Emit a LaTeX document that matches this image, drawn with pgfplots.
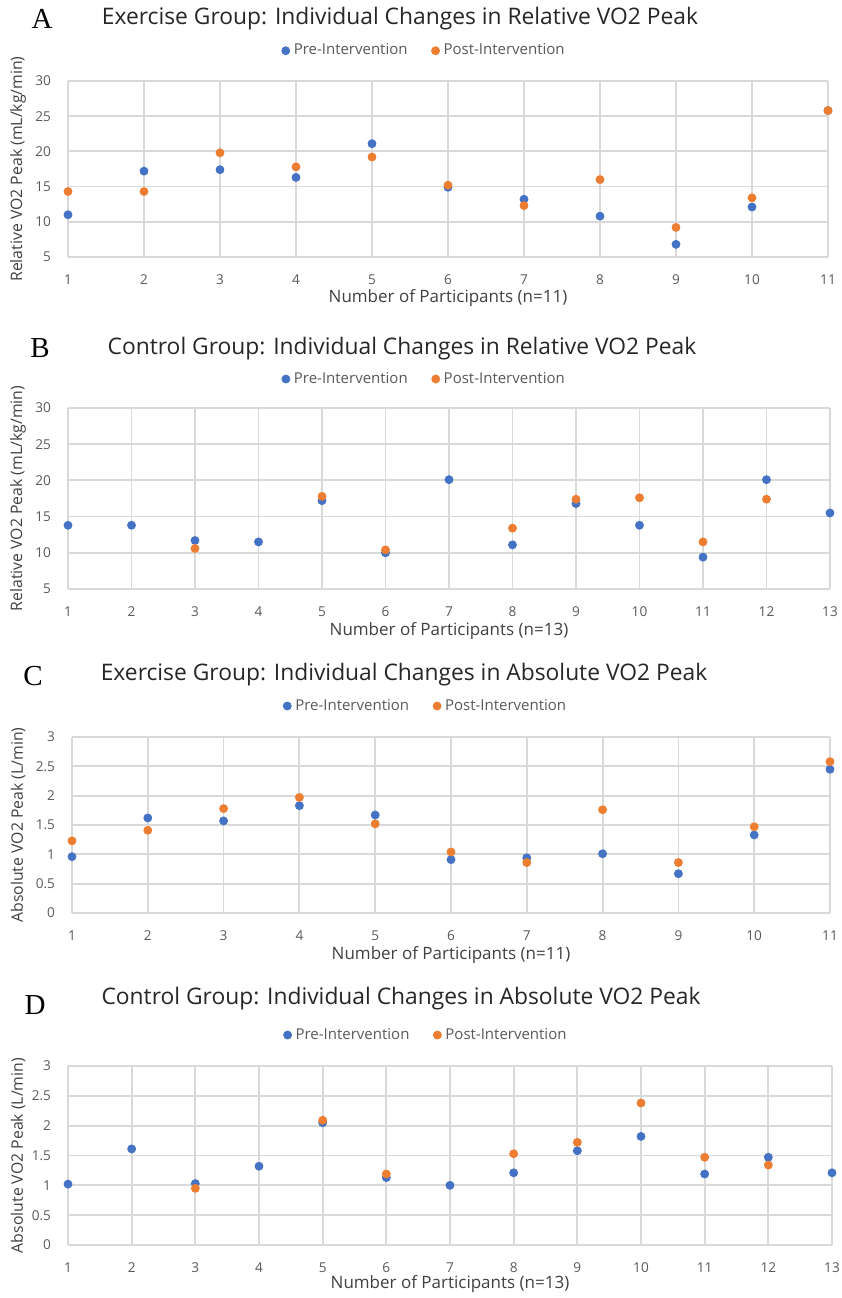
\documentclass[border=0pt]{standalone}
\usepackage{fontspec}
\setmainfont{Open Sans}
\newfontfamily\letterfont{Liberation Serif}
\usepackage{pgfplots}
\pgfplotsset{compat=1.18}
\definecolor{preblue}{HTML}{4472C4}
\definecolor{postorange}{HTML}{ED7D31}
\definecolor{gridgray}{HTML}{D9D9D9}
\definecolor{ticktext}{HTML}{595959}
\definecolor{labeltext}{HTML}{404040}
\definecolor{titletext}{HTML}{262626}

\pgfplotsset{vo2/.style={
  scale only axis, anchor=south west, clip=false,
  axis line style={draw=none},
  xmajorgrids, ymajorgrids,
  major grid style={draw=gridgray, line width=0.9pt},
  major tick length=0pt, tick style={draw=none},
  /pgf/number format/assume math mode=true,
  tick label style={font=\fontsize{6.8}{7}\selectfont, text=ticktext},
  yticklabel style={xshift=-5pt},
  xticklabel style={yshift=-5.5pt},
  xlabel style={font=\fontsize{8.5}{9}\selectfont, text=labeltext},
  ylabel style={font=\fontsize{7.9}{9}\selectfont, text=labeltext},
  ylabel style={at={(axis description cs:0,0.5)}, anchor=center},
  xlabel style={at={(axis description cs:0.5,0)}, anchor=center},
  legend columns=2,
  legend style={draw=none, fill=none, font=\fontsize{7.5}{9}\selectfont, text=ticktext,
    anchor=center, /tikz/every even column/.append style={column sep=10pt},
    legend cell align=left},
  legend image code/.code={\draw[#1] plot coordinates {(0.1cm,0cm)};},
}}
\pgfplotsset{pre/.style={only marks, mark=*, mark size=2pt, color=preblue, mark options={draw=preblue, fill=preblue}},
  post/.style={only marks, mark=*, mark size=2pt, color=postorange, mark options={draw=postorange, fill=postorange}}}

\begin{document}
\begin{tikzpicture}
\useasboundingbox (0,0) rectangle (421pt,649pt);

% Panel A
\begin{axis}[vo2, at={(34pt,520.5pt)}, width=380pt, height=88pt,
  xmin=1, xmax=11, ymin=5, ymax=30, xtick={1,...,11}, ytick={5,10,...,30},
  xlabel={Number of Participants (n=11)}, ylabel={Relative VO2 Peak (mL/kg/min)},
  xlabel style={yshift=-20.5pt}, ylabel style={yshift=25pt},
  legend style={at={(axis description cs:0.470,1.172)}}]
\addplot[pre] coordinates {(1,11.0) (2,17.2) (3,17.4) (4,16.3) (5,21.1) (6,14.9) (7,13.2) (8,10.8) (9,6.8) (10,12.1) (11,25.8)};
\addplot[post] coordinates {(1,14.3) (2,14.3) (3,19.8) (4,17.8) (5,19.2) (6,15.2) (7,12.3) (8,16.0) (9,9.2) (10,13.4) (11,25.8)};
\legend{Pre-Intervention, Post-Intervention}
\end{axis}

% Panel B
\begin{axis}[vo2, at={(34pt,354.5pt)}, width=381pt, height=90.5pt,
  xmin=1, xmax=13, ymin=5, ymax=30, xtick={1,...,13}, ytick={5,10,...,30},
  xlabel={Number of Participants (n=13)}, ylabel={Relative VO2 Peak (mL/kg/min)},
  xlabel style={yshift=-21pt}, ylabel style={yshift=25pt},
  legend style={at={(axis description cs:0.469,1.160)}}]
\addplot[pre] coordinates {(1,13.8) (2,13.8) (3,11.7) (4,11.5) (5,17.2) (6,10.0) (7,20.1) (8,11.1) (9,16.8) (10,13.8) (11,9.4) (12,20.1) (13,15.5)};
\addplot[post] coordinates {(3,10.6) (5,17.8) (6,10.4) (8,13.4) (9,17.4) (10,17.6) (11,11.5) (12,17.4)};
\legend{Pre-Intervention, Post-Intervention}
\end{axis}

% Panel C
\begin{axis}[vo2, at={(36pt,192.5pt)}, width=379pt, height=88pt,
  xmin=1, xmax=11, ymin=0, ymax=3, xtick={1,...,11}, ytick={0,0.5,...,3},
  xlabel={Number of Participants (n=11)}, ylabel={Absolute VO2 Peak (L/min)},
  xlabel style={yshift=-21pt}, ylabel style={yshift=27pt},
  legend style={at={(axis description cs:0.468,1.176)}}]
\addplot[pre] coordinates {(1,0.96) (2,1.62) (3,1.57) (4,1.83) (5,1.67) (6,0.91) (7,0.94) (8,1.01) (9,0.67) (10,1.33) (11,2.45)};
\addplot[post] coordinates {(1,1.23) (2,1.41) (3,1.78) (4,1.97) (5,1.52) (6,1.04) (7,0.86) (8,1.76) (9,0.86) (10,1.47) (11,2.58)};
\legend{Pre-Intervention, Post-Intervention}
\end{axis}

% Panel D
\begin{axis}[vo2, at={(34pt,26.5pt)}, width=382pt, height=89.5pt,
  xmin=1, xmax=13, ymin=0, ymax=3, xtick={1,...,13}, ytick={0,0.5,...,3},
  xlabel={Number of Participants (n=13)}, ylabel={Absolute VO2 Peak (L/min)},
  xlabel style={yshift=-19.5pt}, ylabel style={yshift=25pt},
  legend style={at={(axis description cs:0.470,1.173)}}]
\addplot[pre] coordinates {(1,1.02) (2,1.61) (3,1.03) (4,1.32) (5,2.05) (6,1.13) (7,1.00) (8,1.21) (9,1.58) (10,1.82) (11,1.19) (12,1.47) (13,1.21)};
\addplot[post] coordinates {(3,0.95) (5,2.09) (6,1.19) (8,1.53) (9,1.72) (10,2.38) (11,1.47) (12,1.34)};
\legend{Pre-Intervention, Post-Intervention}
\end{axis}

% Titles and panel letters
\begin{scope}[every node/.style={font=\fontsize{11.4}{13}\selectfont, text=titletext, anchor=base, inner sep=0pt}]
\node at (200pt,636.5pt) {Exercise Group: Individual Changes in Relative VO2 Peak};
\node at (201pt,471.5pt) {Control Group: Individual Changes in Relative VO2 Peak};
\node at (202pt,308.5pt) {Exercise Group: Individual Changes in Absolute VO2 Peak};
\node at (200.5pt,146.5pt) {Control Group: Individual Changes in Absolute VO2 Peak};
\end{scope}
\begin{scope}[every node/.style={font=\letterfont\fontsize{14.5}{16}\selectfont, text=black, anchor=base, inner sep=0pt}]
\node at (21pt,634.5pt) {A};
\node at (20pt,470pt) {B};
\node at (16.5pt,306pt) {C};
\node at (17.5pt,141.5pt) {D};
\end{scope}
\end{tikzpicture}
\end{document}
